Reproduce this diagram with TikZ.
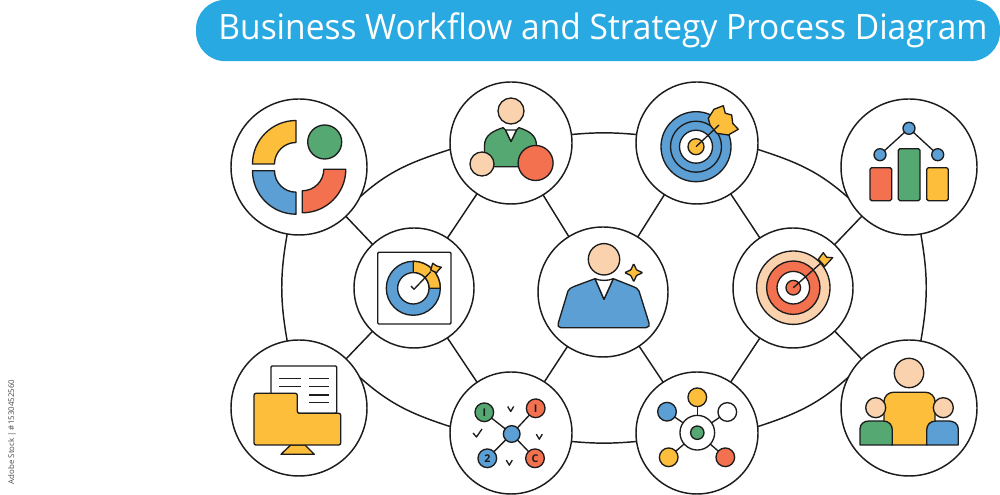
\documentclass[tikz,border=0pt]{standalone}
\usepackage{fontspec}
\usepackage{graphicx}
\setsansfont{Open Sans}
\usetikzlibrary{arrows,shapes}
\pgfdeclarelayer{background}
\pgfsetlayers{background,main}
\definecolor{pillblue}{HTML}{29A9E1}
\definecolor{iyellow}{HTML}{FDBE3C}
\definecolor{igreen}{HTML}{56A872}
\definecolor{iblue}{HTML}{5C9FD4}
\definecolor{ired}{HTML}{F47150}
\definecolor{ipeach}{HTML}{FBD2AE}
\definecolor{iink}{HTML}{1C1C1C}
\tikzstyle{hub}=[circle,draw=iink,fill=white,line width=1.1pt,inner sep=0pt,outer sep=0pt]
\tikzstyle{edge} = [draw=iink,line width=1.1pt,-]
\tikzstyle{icon}=[draw=iink,line width=1pt,line join=round]
\tikzstyle{dot}=[circle,draw=iink,line width=1pt,inner sep=0pt,outer sep=0pt,minimum size=14pt,font=\sffamily\bfseries\fontsize{8}{8}\selectfont,text=iink]
\begin{document}
\begin{tikzpicture}[x=0.75pt,y=0.75pt]
    \useasboundingbox (0,0) rectangle (1000,495);
    % First we draw the title
    \node[fill=pillblue,rounded corners=22pt,minimum width=603pt,minimum height=46pt,inner sep=0pt,text=white,font=\sffamily\fontsize{25}{25}\selectfont] (title) at (598,464.5) {\hspace{7.5pt}\scalebox{1.005}[1.05]{Business Workflow and Strategy Process Diagram}};
    \node[rotate=90,font=\sffamily\fontsize{5.9}{7}\selectfont,text=iink!80] (stockid) at (12,63) {Adobe Stock | \#1530452560};
    % Then the big circles
    \foreach \pos/\name/\size in {{(299,328)/a/102pt}, {(511,352)/b/91.5pt}, {(697,352)/c/91.5pt}, {(909,328)/d/102pt}, {(414,207)/e/90pt}, {(603,203)/f/97.5pt}, {(793,207)/g/90pt}, {(299,87)/h/102pt}, {(511,62)/i/91.5pt}, {(697,62)/j/91.5pt}, {(909,87)/k/102pt}}
        \node[hub,minimum size=\size] (\name) at \pos {};
    % Connect circles with edges
    \begin{pgfonlayer}{background}
    \foreach \source/ \dest in {a/e, b/e, b/f, c/f, c/g, d/g, e/h, e/i, f/i, f/j, g/j, g/k}
        \path[edge] (\source) -- (\dest) ;
    \path[edge] (a.-26) to[out=42,in=198] (b.186);
    \path[edge] (b.8) to[out=5,in=175] (c.172);
    \path[edge] (c.-6) to[out=-18,in=138] (d.207);
    \path[edge] (d.-80) to[out=-80,in=80] (k.80);
    \path[edge] (k.153) to[out=222,in=18] (j.6);
    \path[edge] (j.188) to[out=185,in=-5] (i.-8);
    \path[edge] (i.174) to[out=162,in=-42] (h.27);
    \path[edge] (h.100) to[out=100,in=-100] (a.-100);
    \end{pgfonlayer}
    % Ring in four parts
    \begin{scope}[shift={(a)}]
        \draw[icon,fill=iyellow] (-46.5,3) arc (180:90:43.5) -- (-3,24.5) arc (90:180:21.5) -- cycle;
        \draw[icon,fill=iblue] (-46.5,-3.7) arc (180:270:43.5) -- (-3,-25.2) arc (270:180:21.5) -- cycle;
        \draw[icon,fill=ired] (46.8,-2.3) arc (0:-90:43.5) -- (3.3,-23.8) arc (-90:0:21.5) -- cycle;
        \draw[icon,fill=igreen] (25.7,25) circle (17);
    \end{scope}
    % Person with two circles
    \begin{scope}[shift={(b)}]
        \draw[icon,fill=ipeach] (0,32) circle (13);
        \draw[icon,fill=igreen] (-26.5,-23.7) -- (-26.5,-2) .. controls (-26,8) and (-18,12) .. (-8,15.3) -- (-5.5,13) -- (0,1.5) -- (5.5,13) -- (8,15.3) .. controls (18,12) and (25,8) .. (25.5,-2) -- (25.5,-23.7) -- cycle;
        \draw[icon,fill=white] (-5.5,13) -- (5.5,13) -- (0,1.5) -- cycle;
        \draw[icon,fill=ipeach] (-29,-21) circle (12);
        \draw[icon,fill=ired] (24.6,-20) circle (17.5);
    \end{scope}
    % Target with big dart
    \begin{scope}[shift={(c)}]
        \draw[icon,fill=iblue] (-1,-3.7) circle (35);
        \draw[icon] (-1,-3.7) circle (25.5);
        \draw[icon,fill=white] (-1,-3.7) circle (16.5);
        \draw[icon,fill=iyellow] (-1,-3.7) circle (8);
        \draw[icon,fill=iyellow] (17,33.7) -- (26.3,37.3) -- (28.3,29.7) -- (34.7,28) -- (35.7,19.7) -- (41.3,13.7) -- (31.3,8) -- (19.7,9.7) -- (13,18) -- (11.3,24.7) -- cycle;
        \draw[icon] (-1,-3.7) -- (22,18);
    \end{scope}
    % Bars with three dots
    \begin{scope}[shift={(d)}]
        \draw[icon,fill=ired,rounded corners=1.2pt] (-39,-33.7) rectangle (-17.3,-0.7);
        \draw[icon,fill=igreen,rounded corners=1.2pt] (-10.7,-33.7) rectangle (11,18.3);
        \draw[icon,fill=iyellow,rounded corners=1.2pt] (17.7,-33.7) rectangle (39.3,-0.7);
        \foreach \pos/\name in {{(0,38.7)/d1}, {(-29,12.3)/d2}, {(28.7,12.3)/d3}}
            \node[dot,fill=iblue,minimum size=9pt] (\name) at \pos {};
        \foreach \source/ \dest in {d1/d2, d1/d3}
            \path[icon] (\source) -- (\dest) ;
    \end{scope}
    % Square with ring and small dart
    \begin{scope}[shift={(e)}]
        \draw[icon,rounded corners=0.8pt] (-36.3,-36) rectangle (37,35.7);
        \draw[icon,fill=iblue] (-0.7,-0.3) circle (27);
        \draw[icon,fill=iyellow] (26.3,-0.3) arc (0:90:27) -- (-0.7,15.4) arc (90:0:15.7) -- cycle;
        \draw[icon,fill=white] (-0.7,-0.3) circle (15.7);
        \draw[icon,fill=iyellow] (18.7,24.7) -- (22.7,22) -- (27.3,20.7) -- (24,17.3) -- (22.7,15.3) -- (16.7,18) -- cycle;
        \draw[icon] (-3,2) -- (0,-1.3) -- (16.7,16.3);
    \end{scope}
    % Person in the middle
    \begin{scope}[shift={(f)}]
        \draw[icon,fill=iblue] (-42,-35.7) .. controls (-45,-35.7) and (-45.5,-33.5) .. (-44.7,-31) -- (-35,1) .. controls (-34,3) and (-32,4.5) .. (-29,5.5) -- (-8,13.3) -- (1,-7.3) -- (10.3,13.3) -- (30,5.5) .. controls (33,4.5) and (35,3) .. (36,1) -- (46,-31) .. controls (46.8,-33.5) and (46,-35.7) .. (43,-35.7) -- cycle;
        \draw[icon,fill=white] (-8,13.3) .. controls (-3,11) and (5,11) .. (10.3,13.3) -- (1,-7.3) -- cycle;
        \draw[icon,fill=ipeach] (1,32.7) circle (15.7);
        \draw[icon,fill=iyellow,rounded corners=0.6pt] (30.7,28.3) -- (33.5,22.1) -- (39.7,19.3) -- (33.5,16.5) -- (30.7,10.3) -- (27.9,16.5) -- (21.7,19.3) -- (27.9,22.1) -- cycle;
    \end{scope}
    % Target with small dart
    \begin{scope}[shift={(g)}]
        \draw[icon,fill=ipeach] (0.3,0.3) circle (36.7);
        \draw[icon,fill=ired] (0.3,0.3) circle (26.7);
        \draw[icon,fill=white] (0.3,0.3) circle (16.3);
        \draw[icon,fill=ired] (0.3,0.3) circle (7.3);
        \draw[icon] (0.3,0.3) -- (28,25);
        \draw[icon,fill=iyellow] (30.3,35.3) -- (33.7,30.7) -- (39.7,30.3) -- (36,26.3) -- (31.7,21.7) -- (25.3,28.7) -- cycle;
    \end{scope}
    % Paper behind folder
    \begin{scope}[shift={(h)}]
        \draw[icon,fill=white,rounded corners=0.8pt] (-28,-5.3) rectangle (37.7,42);
        \foreach \y in {29.7,21.3}
            \draw[icon] (-19.7,\y) -- (2,\y);
        \foreach \y in {29.7,21.3,13,5.3}
            \draw[icon] (10.3,\y) -- (30,\y);
        \draw[icon,fill=iyellow] (-8.3,-37) -- (-18,-46.3) -- (15.3,-46.3) -- (6,-37) -- cycle;
        \draw[icon,fill=iyellow,rounded corners=1.5pt] (-45,-37) -- (-45,14.7) -- (-1.7,14.7) -- (-1.7,-5.3) -- (41.7,-5.3) -- (41.7,-37) -- cycle;
    \end{scope}
    % Cross of labelled dots
    \begin{scope}[shift={(i)}]
        \node[dot,fill=iblue,minimum size=12.5pt] (i0) at (0.7,-1) {};
        \foreach \pos/\name/\col/\txt in {{(-26.7,20.7)/i1/igreen/I}, {(24.7,24.7)/i2/ired/I}, {(-23.7,-25.3)/i3/iblue/2}, {(24,-25.3)/i4/ired/C}}
            \node[dot,fill=\col] (\name) at \pos {\txt};
        \foreach \dest in {i1,i2,i3,i4}
            \path[icon] (i0) -- (\dest) ;
        \foreach \pos in {(-0.3,24),(28.3,-3.7),(-1.7,-29.7)}
            \draw[icon] \pos +(-3,2.5) -- +(0,-2.5) -- +(3,2.5);
        \draw[icon] (-38,0) -- (-34.5,-4) -- (-29,4);
    \end{scope}
    % Dots round a ring
    \begin{scope}[shift={(j)}]
        \node[dot,fill=white,minimum size=26pt] (j0) at (0.3,0.3) {};
        \draw[icon,fill=igreen] (j0) circle (6.7);
        \foreach \pos/\name/\col in {{(0.3,35.7)/j1/iyellow}, {(-30,21.3)/j2/iblue}, {(30.3,21)/j3/white}, {(-28.3,-24.3)/j4/iyellow}, {(28.3,-24.3)/j5/ired}}
            \node[dot,fill=\col] (\name) at \pos {};
        \foreach \dest in {j1,j2,j3,j4,j5}
            \path[icon] (j0) -- (\dest) ;
    \end{scope}
    % Three people
    \begin{scope}[shift={(k)}]
        \draw[icon,fill=ipeach] (0,35) circle (14.7);
        \draw[icon,fill=iyellow,rounded corners=7pt] (-25,-37) -- (-25,15.7) -- (26,15.7) -- (26,-37) -- cycle;
        \draw[icon,fill=igreen] (-49,-37) -- (-49,-21) .. controls (-49,-16) and (-45,-13) .. (-40,-13) -- (-26,-13) .. controls (-20,-13) and (-16.7,-17) .. (-16.7,-22) -- (-16.7,-37) -- cycle;
        \draw[icon,fill=iblue] (49.3,-37) -- (49.3,-21) .. controls (49.3,-16) and (45,-13) .. (40,-13) -- (27,-13) .. controls (21,-13) and (17.7,-17) .. (17.7,-22) -- (17.7,-37) -- cycle;
        \draw[icon,fill=ipeach] (-33.3,0.3) circle (10);
        \draw[icon,fill=ipeach] (34.3,0.3) circle (10);
    \end{scope}
\end{tikzpicture}
\end{document}
